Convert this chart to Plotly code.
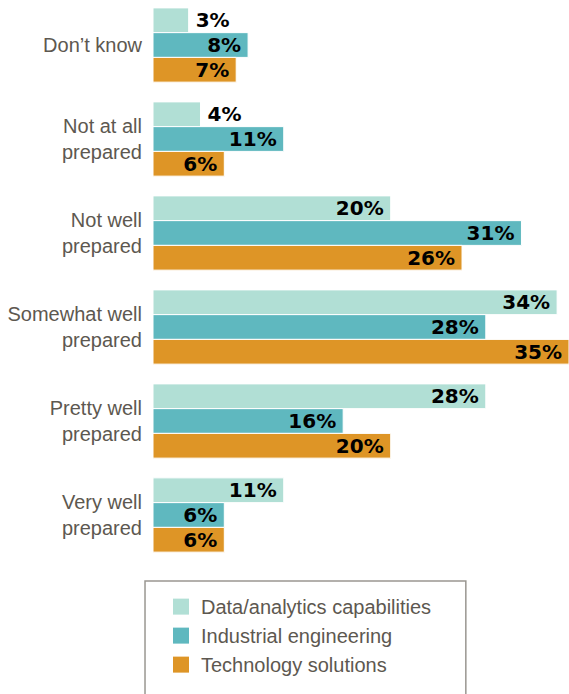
import plotly.graph_objects as go

# Survey readiness by capability area (percent of respondents)
categories = [
    "Don’t know",
    "Not at all<br>prepared",
    "Not well<br>prepared",
    "Somewhat well<br>prepared",
    "Pretty well<br>prepared",
    "Very well<br>prepared",
]
series_names = [
    "Data/analytics capabilities",
    "Industrial engineering",
    "Technology solutions",
]
data_analytics = [3, 4, 20, 34, 28, 11]
industrial_eng = [8, 11, 31, 28, 16, 6]
technology = [7, 6, 26, 35, 20, 6]

colors = ["#b1dfd5", "#5fb8bf", "#de9526"]
label_gray = "#5d5850"

fig = go.Figure()
for name, vals, col in zip(series_names, [data_analytics, industrial_eng, technology], colors):
    # short bars carry their label outside, longer ones inside at the bar end
    positions = ["outside" if v < 5 else "inside" for v in vals]
    texts = [("\u2009" + f"{v}%") if p == "outside" else (f"{v}%" + "\u2009")
             for v, p in zip(vals, positions)]
    fig.add_trace(go.Bar(
        name=name,
        y=categories,
        x=vals,
        orientation="h",
        marker=dict(color=col, line=dict(color="white", width=1)),
        text=texts,
        textposition=positions,
        insidetextanchor="end",
        constraintext="none",
        cliponaxis=False,
        textfont=dict(family="DejaVu Sans", size=20, color="black", weight="bold"),
        hoverinfo="skip",
        showlegend=False,
    ))

# legend keys: larger square swatches than the default bar key
for name, col in zip(series_names, colors):
    fig.add_trace(go.Scatter(
        name=name,
        x=[None], y=[None],
        mode="markers",
        marker=dict(symbol="square", size=16, color=col, line=dict(width=0)),
        showlegend=True,
        hoverinfo="skip",
    ))

fig.update_layout(
    width=569,
    height=694,
    margin=dict(l=153, r=0, t=0, b=132),
    paper_bgcolor="white",
    plot_bgcolor="white",
    barmode="group",
    bargap=0.21,
    bargroupgap=0.0,
    showlegend=True,
    legend=dict(
        x=0.0192, xanchor="left",
        y=-0.0447, yanchor="top",
        font=dict(family="Liberation Sans", size=20, color=label_gray),
        bgcolor="rgba(0,0,0,0)",
        borderwidth=0,
        traceorder="normal",
    ),
    xaxis=dict(
        range=[0, 35],
        showticklabels=False, showgrid=False, zeroline=False, showline=False,
        fixedrange=True,
    ),
    yaxis=dict(
        type="category",
        categoryorder="array",
        categoryarray=categories,
        range=[5.5, -0.479],
        showgrid=False, zeroline=False, showline=False,
        ticks="",
        ticklabelstandoff=10,
        tickfont=dict(family="Liberation Sans", size=20, color=label_gray),
    ),
)

# legend frame, running off the bottom edge of the page
fig.add_shape(
    type="rect", xref="paper", yref="paper",
    x0=-0.0192, x1=0.752, y0=-0.30, y1=-0.0338,
    line=dict(color="#9a9791", width=1.5),
    fillcolor="rgba(0,0,0,0)",
    layer="below",
)

fig.write_html("out.html")
